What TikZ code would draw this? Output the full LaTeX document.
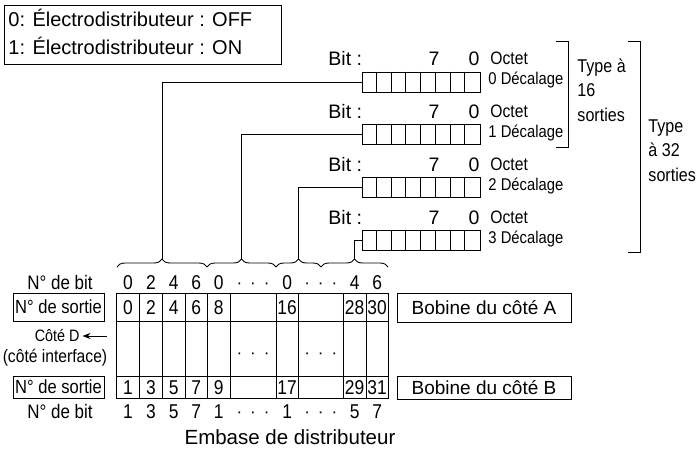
\documentclass[tikz,border=0pt]{standalone}
\usepackage{fontspec}
\setmainfont{Liberation Sans}
\newfontfamily\condf{Liberation Sans}[FakeStretch=0.87]
\usetikzlibrary{decorations.pathreplacing,arrows.meta}
\newcommand\fs[1]{\fontsize{#1}{#1}\selectfont}
\newcommand\tdots{·\hspace{8pt}·\hspace{8pt}·}
\begin{document}
\begin{tikzpicture}[x=1pt,y=-1pt,line width=0.9pt,
  lbl/.style={inner sep=0,anchor=base},
  lblw/.style={inner sep=0,anchor=base west},
  frame/.style={draw,inner sep=0},
  regbox/.style={draw,inner sep=0,minimum width=118pt,minimum height=20pt},
  brc/.style={decorate,decoration={brace,amplitude=8pt}},
  num/.style={inner sep=0,anchor=base,font=\condf\fs{20}},
  dts/.style={inner sep=0,anchor=base,font=\fs{17}}]
\useasboundingbox (0,0) rectangle (700,457);

% legend
\node[frame,minimum width=277pt,minimum height=59pt,anchor=north west] (legend) at (4,5) {};
\node[lblw,font=\fs{20}] (leg1) at (8,27) {0: Électrodistributeur : OFF};
\node[lblw,font=\fs{20}] (leg2) at (8,55) {1: Électrodistributeur : ON};

% registers
\foreach \k in {0,...,3}{
  \node[regbox] (reg\k) at (421,{82+52.7*\k}) {};
  \foreach \i in {1,...,7}
    \draw ([xshift=\i*14.75pt]reg\k.north west) -- ([xshift=\i*14.75pt]reg\k.south west);
  \node[lblw,font=\fs{19.5}] (bit\k) at (328,{66+52.7*\k}) {Bit :};
  \node[lbl,font=\fs{19.5}] (sev\k) at (434,{66+52.7*\k}) {7};
  \node[lbl,font=\fs{19.5}] (zer\k) at (474,{66+52.7*\k}) {0};
  \node[lblw,font=\condf\fs{18}] (oct\k) at (490,{65+52.7*\k}) {Octet};
  \node[lblw,font=\condf\fs{17}] (dec\k) at (488,{85+52.7*\k}) {\k{} Décalage};
}

% type brackets
\draw (556,41) -- (568,41) -- (568,147) -- (556,147);
\draw (628,41) -- (640,41) -- (640,252) -- (628,252);
\node[lblw,font=\condf\fs{18.5}] (t16a) at (577,73) {Type à};
\node[lblw,font=\condf\fs{18.5}] (t16b) at (577,97) {16};
\node[lblw,font=\condf\fs{18.5}] (t16c) at (577,122) {sorties};
\node[lblw,font=\condf\fs{18.5}] (t32a) at (648,133) {Type};
\node[lblw,font=\condf\fs{18.5}] (t32b) at (648,157) {à 32};
\node[lblw,font=\condf\fs{18.5}] (t32c) at (648,181) {sorties};

% braces
\coordinate (b0) at (117,267);
\coordinate (b1) at (207,267);
\coordinate (b2) at (276,267);
\coordinate (b3) at (321,267);
\coordinate (b4) at (388,267);
\draw[brc] (b0) -- (b1);
\draw[brc] (b1) -- (b2);
\draw[brc] (b2) -- (b3);
\draw[brc] (b3) -- (b4);
\coordinate (tip0) at (162,259);
\coordinate (tip1) at (241.5,259);
\coordinate (tip2) at (298.5,259);
\coordinate (tip3) at (354.5,259);
\draw (reg0.west) -| (tip0);
\draw (reg1.west) -| (tip1);
\draw (reg2.west) -| (tip2);
\draw (reg3.west) -| (tip3);

% table grid
\draw (116.5,293) rectangle (388.3,398);
\draw (116.5,321) -- (388.3,321);
\draw (116.5,376) -- (388.3,376);
\foreach \x in {139.5,162.3,185,207.5,230,276,298.3,343.3,366}
  \draw (\x,293) -- (\x,398);

% numbers
\foreach \x/\t [count=\n] in {128/0,150.9/2,173.65/4,196.25/6,218.75/8,287.15/16,354.65/28,377.15/30}
  \node[num] (oa\n) at (\x,314) {\t};
\foreach \x/\t [count=\n] in {128/1,150.9/3,173.65/5,196.25/7,218.75/9,287.15/17,354.65/29,377.15/31}
  \node[num] (ob\n) at (\x,394.5) {\t};
\foreach \x/\t [count=\n] in {128/0,150.9/2,173.65/4,196.25/6,218.75/0,287.15/0,354.65/4,377.15/6}
  \node[num] (ba\n) at (\x,289.5) {\t};
\foreach \x/\t [count=\n] in {128/1,150.9/3,173.65/5,196.25/7,218.75/1,287.15/1,354.65/5,377.15/7}
  \node[num] (bb\n) at (\x,418.5) {\t};
\foreach \y [count=\n] in {288,358,417}{
  \node[dts] (da\n) at (253,\y) {\tdots};
  \node[dts] (db\n) at (320.8,\y) {\tdots};
}

% left labels
\node[lbl,font=\condf\fs{19.5}] (nbita) at (60,289) {N° de bit};
\node[lbl,font=\condf\fs{19.5}] (nbitb) at (60,418) {N° de bit};
\node[frame,font=\condf\fs{19},minimum width=91pt,minimum height=28pt] (sortA) at (58.5,307) {N° de sortie};
\node[frame,font=\condf\fs{19},minimum width=91pt,minimum height=22pt] (sortB) at (58.5,387) {N° de sortie};
\node[inner sep=0,anchor=east,font=\condf\fs{16.5}] (cote) at (80,336) {Côté D};
\coordinate (arrtail) at (107,336);
\draw[-{Stealth[length=8pt,width=6pt]},shorten >=2.5pt] (arrtail) -- (cote.east);
\node[inner sep=0,font=\condf\fs{18}] (iface) at (55,358) {(côté interface)};

% coil boxes
\node[frame,font=\fs{19},minimum width=174pt,minimum height=29pt] (bobA) at (484,307.5) {Bobine du côté A};
\node[frame,font=\fs{19},minimum width=174pt,minimum height=23pt] (bobB) at (484,387.5) {Bobine du côté B};

\node[lbl,font=\fs{20.5}] (embase) at (290,444) {Embase de distributeur};
\end{tikzpicture}
\end{document}
